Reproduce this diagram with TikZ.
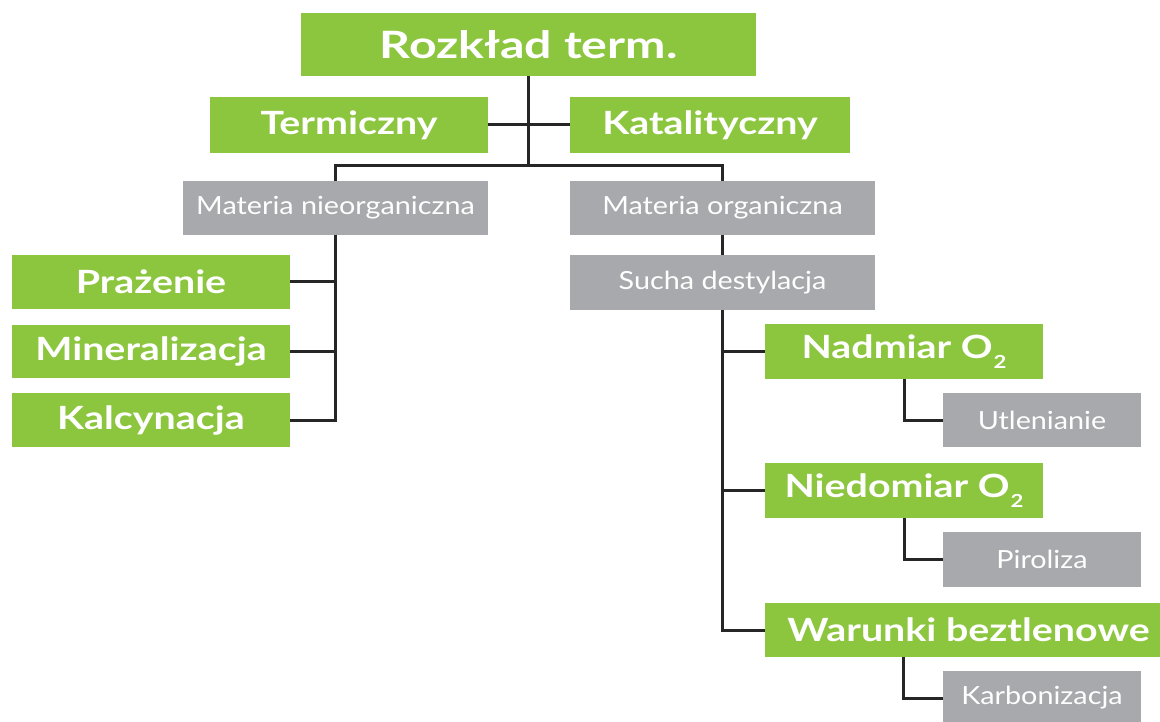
\documentclass[tikz,border=0pt]{standalone}
\usepackage{fontspec}
\setmainfont{Lato}
\newfontfamily\gfont[FakeStretch=1.23]{Lato}
\newfontfamily\rfont[FakeStretch=1.28]{Lato}
\newfontfamily\sfontgray[FakeStretch=1.15]{Lato}
\newcommand{\oxsub}{\kern1pt\raisebox{-0.32em}{\fontsize{18}{20}\selectfont 2}}
\definecolor{boxgreen}{HTML}{8CC63F}
\definecolor{boxgray}{HTML}{A7A9AC}
\definecolor{linecol}{HTML}{262626}
\tikzset{
  gbox/.style={fill=boxgreen, text=white, inner sep=0pt, outer sep=0pt,
    font=\gfont\bfseries\fontsize{32}{36}\selectfont, anchor=center},
  sbox/.style={fill=boxgray, text=white, inner sep=0pt, outer sep=0pt,
    font=\sfontgray\fontsize{25}{29}\selectfont, anchor=center},
  conn/.style={draw=linecol, line width=3pt}
}
\begin{document}
\begin{tikzpicture}[x=1pt,y=-1pt]
\useasboundingbox (0,0) rectangle (1160,722);
\clip (0,0) rectangle (1160,722);
% boxes
\node[gbox, minimum width=455pt, minimum height=63pt, font=\rfont\bfseries\fontsize{37.7}{44}\selectfont] (root) at (528.5,44.5) {Rozkład term.};
\node[gbox, minimum width=278pt, minimum height=56pt] (term) at (349,125) {Termiczny};
\node[gbox, minimum width=280pt, minimum height=56pt] (kat) at (710,125) {Katalityczny};
\node[sbox, minimum width=305pt, minimum height=54pt] (mnieorg) at (335.5,208) {Materia nieorganiczna};
\node[sbox, minimum width=305pt, minimum height=54pt] (morg) at (722.5,208) {Materia organiczna};
\node[gbox, minimum width=278pt, minimum height=54pt] (praz) at (151,282) {Prażenie};
\node[gbox, minimum width=278pt, minimum height=53pt] (miner) at (151,351.5) {Mineralizacja};
\node[gbox, minimum width=278pt, minimum height=54pt] (kalc) at (151,420) {Kalcynacja};
\node[sbox, minimum width=305pt, minimum height=55pt] (sucha) at (722.5,282.5) {Sucha destylacja};
\node[gbox, minimum width=278pt, minimum height=55pt] (nadm) at (904,351.5) {Nadmiar O\oxsub};
\node[sbox, minimum width=198pt, minimum height=54pt] (utl) at (1042,420) {Utlenianie};
\node[gbox, minimum width=278pt, minimum height=55pt] (niedo) at (904,490.5) {Niedomiar O\oxsub};
\node[sbox, minimum width=198pt, minimum height=55pt] (pir) at (1042,559.5) {Piroliza};
\node[gbox, minimum width=395pt, minimum height=54pt] (war) at (962.5,630) {\hspace*{12pt}Warunki beztlenowe};
\node[sbox, minimum width=198pt, minimum height=54pt] (karb) at (1042,698) {Karbonizacja};
% connectors
\coordinate (hub) at (528.5,166);
\draw[conn] (root.south) -- (hub);
\draw[conn] (term.east) -- (kat.west);
\draw[conn] (hub) -| (mnieorg.north);
\draw[conn] (hub) -| (morg.north);
\draw[conn] (mnieorg.south) |- (praz.east);
\draw[conn] (mnieorg.south) |- (miner.east);
\draw[conn] (mnieorg.south) |- (kalc.east);
\draw[conn] (morg.south) -- (sucha.north);
\draw[conn] (sucha.south) |- (nadm.west);
\draw[conn] (sucha.south) |- (niedo.west);
\draw[conn] (sucha.south) |- (war.west);
\draw[conn] (nadm.south) |- (utl.west);
\draw[conn] (niedo.south) |- (pir.west);
\coordinate (wdrop) at ([xshift=-59.5pt]war.south);
\draw[conn] (wdrop) |- (karb.west);
\end{tikzpicture}
\end{document}
